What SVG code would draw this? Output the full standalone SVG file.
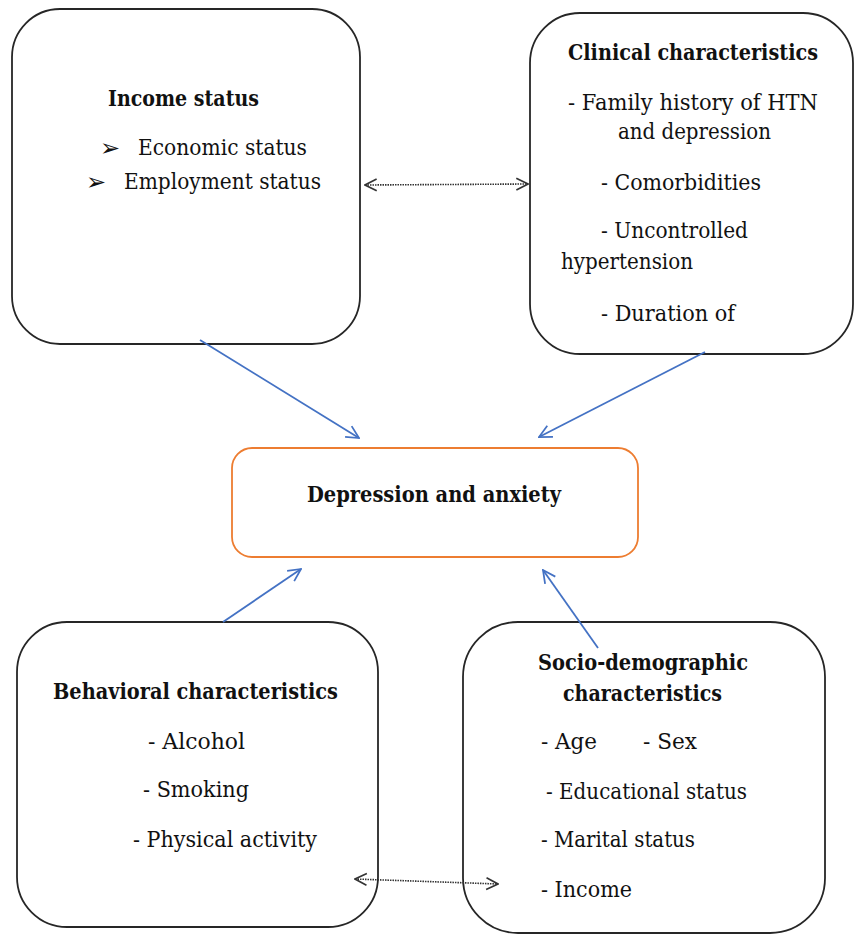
<svg xmlns="http://www.w3.org/2000/svg" width="854" height="935" viewBox="0 0 854 935">
<defs>
<style>
.box{fill:#fff;stroke:#262626;stroke-width:1.8}
.t{font-family:'DejaVu Serif','Liberation Serif',serif;font-size:22px;fill:#111}
.b{font-weight:bold}
.blue{stroke:#4472C4;stroke-width:1.8;fill:none}
.dot{stroke:#333;stroke-width:1.6;stroke-dasharray:1.5 1;fill:none}
.bul{font-family:'DejaVu Sans',sans-serif;font-size:24px;fill:#111}
</style>
<marker id="ab" viewBox="0 0 12 12" refX="11" refY="6" markerWidth="15" markerHeight="15" markerUnits="userSpaceOnUse" orient="auto-start-reverse">
<path d="M1,1 L11,6 L1,11" fill="none" stroke="#4472C4" stroke-width="1.4"/>
</marker>
<marker id="ad" viewBox="0 0 12 12" refX="11" refY="6" markerWidth="14" markerHeight="14" markerUnits="userSpaceOnUse" orient="auto-start-reverse">
<path d="M1,1 L11,6 L1,11" fill="none" stroke="#333" stroke-width="1.4"/>
</marker>
</defs>
<rect width="854" height="935" fill="#fff"/>

<g id="income">
<rect class="box" x="12" y="9" width="348" height="335" rx="48"/>
<text class="t b" x="108" y="106" textLength="151" lengthAdjust="spacingAndGlyphs">Income status</text>
<text class="bul" x="100" y="156">➢</text>
<text class="t" x="138" y="155" textLength="169" lengthAdjust="spacingAndGlyphs">Economic status</text>
<text class="bul" x="86" y="190">➢</text>
<text class="t" x="124" y="189" textLength="197" lengthAdjust="spacingAndGlyphs">Employment status</text>
</g>

<g id="clinical">
<rect class="box" x="530" y="13" width="323" height="341" rx="50"/>
<text class="t b" x="568" y="60" textLength="250" lengthAdjust="spacingAndGlyphs">Clinical characteristics</text>
<text class="t" x="568" y="110" textLength="250" lengthAdjust="spacingAndGlyphs">- Family history of HTN</text>
<text class="t" x="618" y="139" textLength="153" lengthAdjust="spacingAndGlyphs">and depression</text>
<text class="t" x="601" y="190" textLength="160" lengthAdjust="spacingAndGlyphs">- Comorbidities</text>
<text class="t" x="601" y="238" textLength="147" lengthAdjust="spacingAndGlyphs">- Uncontrolled</text>
<text class="t" x="561" y="269" textLength="132" lengthAdjust="spacingAndGlyphs">hypertension</text>
<text class="t" x="601" y="321" textLength="134" lengthAdjust="spacingAndGlyphs">- Duration of</text>
</g>

<g id="outcome">
<rect x="232" y="448" width="406" height="109" rx="20" fill="#fff" stroke="#ED7D31" stroke-width="1.8"/>
<text class="t b" x="307" y="502" textLength="254" lengthAdjust="spacingAndGlyphs">Depression and anxiety</text>
</g>

<g id="behavioral">
<rect class="box" x="17" y="622" width="361" height="305" rx="50"/>
<text class="t b" x="53" y="699" textLength="285" lengthAdjust="spacingAndGlyphs">Behavioral characteristics</text>
<text class="t" x="148" y="749" textLength="97" lengthAdjust="spacingAndGlyphs">- Alcohol</text>
<text class="t" x="143" y="797" textLength="106" lengthAdjust="spacingAndGlyphs">- Smoking</text>
<text class="t" x="133" y="847" textLength="184" lengthAdjust="spacingAndGlyphs">- Physical activity</text>
</g>

<g id="socio">
<rect class="box" x="463" y="622" width="362" height="311" rx="55"/>
<text class="t b" x="538" y="670" textLength="210" lengthAdjust="spacingAndGlyphs">Socio-demographic</text>
<text class="t b" x="563" y="701" textLength="159" lengthAdjust="spacingAndGlyphs">characteristics</text>
<text class="t" x="541" y="749" textLength="56" lengthAdjust="spacingAndGlyphs">- Age</text>
<text class="t" x="643" y="749" textLength="54" lengthAdjust="spacingAndGlyphs">- Sex</text>
<text class="t" x="546" y="799" textLength="201" lengthAdjust="spacingAndGlyphs">- Educational status</text>
<text class="t" x="541" y="847" textLength="154" lengthAdjust="spacingAndGlyphs">- Marital status</text>
<text class="t" x="541" y="897" textLength="91" lengthAdjust="spacingAndGlyphs">- Income</text>
</g>

<g id="connectors">
<line class="blue" x1="200" y1="340" x2="359" y2="438" marker-end="url(#ab)"/>
<line class="blue" x1="705" y1="352" x2="539" y2="437" marker-end="url(#ab)"/>
<line class="blue" x1="223" y1="622" x2="301" y2="569" marker-end="url(#ab)"/>
<line class="blue" x1="598" y1="648" x2="543" y2="570" marker-end="url(#ab)"/>
<line class="dot" x1="365" y1="185" x2="528" y2="184" marker-start="url(#ad)" marker-end="url(#ad)"/>
<line class="dot" x1="355" y1="879" x2="498" y2="884" marker-start="url(#ad)" marker-end="url(#ad)"/>
</g>
</svg>
